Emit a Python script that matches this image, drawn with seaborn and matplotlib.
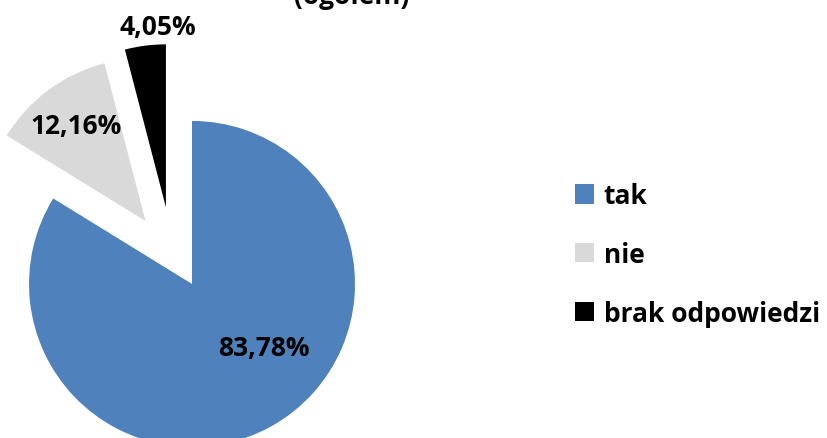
import matplotlib
matplotlib.use("Agg")
import matplotlib.pyplot as plt
import seaborn as sns
from matplotlib.patches import Patch

sns.set_theme(style="white")
plt.rcParams['font.family'] = ['Open Sans', 'DejaVu Sans']
plt.rcParams['font.weight'] = 'bold'
plt.rcParams['text.color'] = 'black'

labels = ['tak', 'nie', 'brak odpowiedzi']
values = [83.78, 12.16, 4.05]
colors = ['#4F81BD', '#D9D9D9', '#000000']
explode = [0.0, 0.48, 0.5]
title = '(ogółem)'

fig = plt.figure(figsize=(8.27, 4.39), dpi=100)
ax = fig.add_axes([0, 0, 1, 1])

wedges, _ = ax.pie(values, colors=colors, explode=explode, startangle=90,
                   counterclock=False, radius=1.0,
                   wedgeprops=dict(linewidth=0))
# the black slice sits a bit further left than a radial explode gives
wedges[2].set_center((-0.16, 0.47))

# label spots (relative to pie centre, in radius units)
label_pos = [(0.44, -0.39), (-0.71, 0.97), (-0.21, 1.58)]
for v, (lx, ly) in zip(values, label_pos):
    ax.text(lx, ly, f'{v:.2f}%'.replace('.', ','), ha='center', va='center',
            fontsize=19, fontweight='bold', color='black')

ax.set_xlim(-1.178, 3.896)
ax.set_ylim(-0.945, 1.748)
ax.set_aspect('equal', adjustable='box')
ax.axis('off')

fig.text(0.425, 1 - 4 / 439, title, ha='center', va='baseline',
         fontsize=19, fontweight='bold', color='black')

handles = [Patch(facecolor=c, edgecolor='none') for c in colors]
fig.legend(handles, labels, loc='center left', bbox_to_anchor=(0.666, 0.418),
           frameon=False, handlelength=0.75, handleheight=0.75,
           handletextpad=0.35, labelspacing=1.2, labelcolor='black',
           prop=dict(weight='bold', size=19))

fig.savefig('out.png', dpi=100)
